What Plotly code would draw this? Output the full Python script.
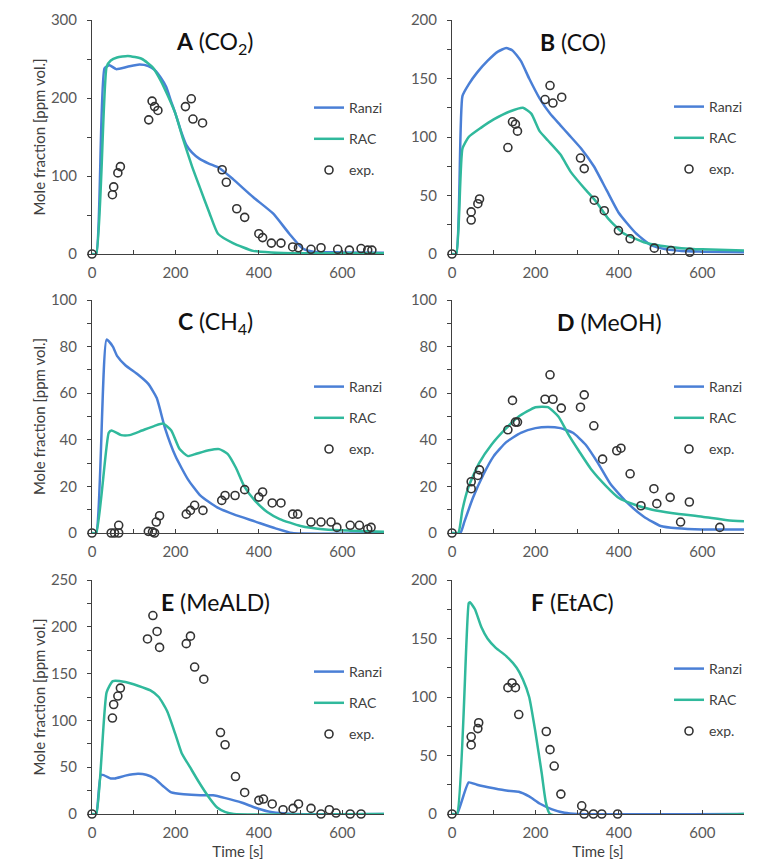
import plotly.graph_objects as go

# ---------------- data ----------------
# Panel A (CO2)
A_ranzi_t = [0, 10, 30, 42, 58, 85, 114, 135, 150, 165, 178, 190, 200, 215, 226, 240, 258, 280, 306, 338, 386, 434, 473, 505, 530, 600, 700]
A_ranzi_y = [0, 0, 238, 242, 237, 240, 243, 241, 236, 226, 214, 195, 180, 155, 140, 130, 122, 116, 110, 96, 73, 52, 26, 7, 3, 2, 1.5]
A_rac_t = [0, 10, 35, 45, 60, 86, 120, 146, 165, 180, 200, 218, 240, 258, 282, 302, 338, 386, 430, 500, 700]
A_rac_y = [0, 0, 240, 248, 252, 254, 250, 239, 222, 205, 180, 148, 112, 86, 52, 26, 14, 4, 2, 1, 1]
A_exp_t = [0, 49, 52, 62, 68, 136, 144, 150, 158, 224, 238, 242, 265, 312, 322, 347, 366, 400, 409, 430, 453, 481, 495, 525, 549, 589, 617, 645, 661, 671]
A_exp_y = [0, 76, 86, 104, 112, 172, 196, 189, 184, 189, 199, 173, 168, 108, 92, 58, 47, 26, 21, 14, 14, 9, 8, 6, 8, 6, 5, 7, 5, 5]

# Panel B (CO)
B_ranzi_t = [0, 10, 25, 40, 60, 85, 110, 130, 145, 165, 185, 210, 235, 260, 280, 310, 340, 370, 400, 440, 475, 500, 550, 600, 700]
B_ranzi_y = [0, 0, 135, 145, 155, 165, 173, 176, 174, 165, 150, 133, 120, 110, 102, 90, 75, 55, 35, 18, 8, 5, 2.5, 2, 1.5]
B_rac_t = [0, 10, 25, 40, 70, 100, 140, 170, 190, 210, 230, 260, 285, 320, 345, 375, 410, 460, 500, 550, 600, 700]
B_rac_y = [0, 0, 90, 100, 108, 115, 122, 125, 120, 105, 97, 85, 70, 55, 45, 30, 18, 10, 7, 5, 4, 3]
B_exp_t = [0, 46, 46, 62, 66, 134, 145, 152, 157, 223, 235, 242, 263, 308, 317, 341, 365, 399, 427, 485, 525, 570]
B_exp_y = [0, 29, 36, 43, 47, 91, 113, 111, 105, 132, 144, 129, 134, 82, 73, 46, 37, 20, 13, 5, 3, 1.5]

# Panel C (CH4)
C_ranzi_t = [0, 10, 35, 50, 60, 80, 110, 135, 155, 175, 200, 230, 260, 300, 340, 390, 440, 480, 700]
C_ranzi_y = [0, 0, 83, 80, 76, 72, 68, 64, 58, 45, 33, 23, 16, 11, 8, 5, 2, 0, 0]
C_rac_t = [0, 10, 40, 47, 70, 90, 120, 150, 170, 190, 210, 230, 250, 280, 305, 325, 345, 365, 390, 420, 450, 500, 560, 620, 700]
C_rac_y = [0, 0, 43, 44, 42, 42, 44, 46, 47, 44, 36, 33, 34, 35.5, 36, 34, 28, 20, 14, 9, 6, 3, 1.5, 1, 0.5]
C_exp_t = [0, 46, 54, 64, 64, 135, 145, 150, 154, 162, 226, 236, 246, 266, 311, 319, 343, 366, 400, 409, 432, 453, 481, 493, 525, 549, 573, 587, 619, 641, 661, 669]
C_exp_y = [0, 0, 0, 3.3, 0, 0.7, 0.5, 0, 4.7, 7.4, 8.1, 9.7, 11.9, 9.7, 14, 16.1, 16.1, 18.6, 15.4, 17.6, 12.9, 12.9, 8.1, 8.1, 4.7, 4.7, 4.7, 2.4, 3.3, 3.3, 1.7, 2.4]

# Panel D (MeOH)
D_ranzi_t = [0, 20, 30, 50, 75, 100, 130, 165, 200, 230, 260, 290, 320, 350, 380, 420, 460, 500, 540, 600, 700]
D_ranzi_y = [0, 0, 5, 15, 25, 33, 39, 43, 45, 45.5, 45, 43, 38, 30, 21, 13, 7, 3, 2, 1.5, 1.5]
D_rac_t = [0, 15, 25, 40, 65, 95, 130, 160, 200, 230, 255, 280, 305, 335, 370, 400, 440, 480, 530, 600, 660, 700]
D_rac_y = [0, 0, 10, 20, 30, 38, 45, 50, 54, 54, 50, 42, 35, 27, 20, 15, 12, 10, 8.5, 7, 5.5, 5]
D_exp_t = [0, 46, 46, 62, 66, 134, 145, 152, 157, 223, 235, 242, 262, 308, 317, 340, 361, 395, 405, 427, 453, 484, 491, 523, 548, 569, 642]
D_exp_y = [0, 22, 19, 24.7, 27.1, 44.3, 56.9, 47.6, 47.6, 57.4, 67.9, 57.4, 53.6, 54, 59.3, 46, 31.7, 35.3, 36.4, 25.4, 11.7, 19, 12.6, 15.3, 4.7, 13.3, 2.4]

# Panel E (MeALD)
E_ranzi_t = [0, 10, 22, 45, 55, 80, 110, 130, 150, 170, 190, 220, 260, 290, 320, 360, 390, 420, 450, 480, 700]
E_ranzi_y = [0, 0, 42, 38, 38, 41, 43, 42, 38, 30, 23, 21, 20, 20, 17, 12, 7, 3, 1, 0, 0]
E_rac_t = [0, 10, 35, 50, 80, 110, 140, 160, 180, 200, 215, 235, 255, 280, 300, 320, 340, 700]
E_rac_y = [0, 0, 130, 142, 141, 137, 132, 125, 110, 85, 65, 50, 35, 18, 7, 2, 0, 0]
E_exp_t = [0, 49, 52, 62, 68, 133, 146, 156, 162, 226, 236, 246, 268, 308, 319, 344, 366, 400, 411, 432, 458, 482, 495, 525, 549, 569, 585, 619, 645]
E_exp_y = [0, 102.5, 117, 126, 134.5, 187, 212, 195, 178, 182, 190, 157, 144, 87, 74, 40, 23, 14.6, 16, 10.7, 4.6, 6, 10.7, 6, 0, 4.6, 1, 0, 0]

# Panel F (EtAC)
F_ranzi_t = [0, 12, 40, 60, 100, 130, 160, 185, 210, 240, 270, 300, 700]
F_ranzi_y = [0, 0, 27, 25, 22, 20, 19, 15, 9, 4, 1, 0, 0]
F_rac_t = [0, 12, 40, 43, 55, 70, 85, 105, 130, 155, 170, 185, 200, 215, 225, 235, 700]
F_rac_y = [0, 0, 180, 181, 175, 160, 150, 142, 135, 125, 115, 100, 70, 35, 10, 0, 0]
F_exp_t = [0, 46, 46, 62, 64, 134, 144, 152, 160, 226, 235, 245, 261, 311, 317, 339, 359, 397]
F_exp_y = [0, 59, 66, 73, 78, 108, 112, 108, 85, 70.5, 55, 41, 17, 7, 0, 0, 0, 0]

panel_titles = ["<b>A</b> (CO<sub>2</sub>)", "<b>B</b> (CO)", "<b>C</b> (CH<sub>4</sub>)",
                "<b>D</b> (MeOH)", "<b>E</b> (MeALD)", "<b>F</b> (EtAC)"]
y_max = [300, 200, 100, 100, 250, 200]
y_dtick = [100, 50, 20, 20, 50, 50]
x_ticks = [0, 200, 400, 600]
series_names = ["Ranzi", "RAC", "exp."]

panels = [
    (A_ranzi_t, A_ranzi_y, A_rac_t, A_rac_y, A_exp_t, A_exp_y),
    (B_ranzi_t, B_ranzi_y, B_rac_t, B_rac_y, B_exp_t, B_exp_y),
    (C_ranzi_t, C_ranzi_y, C_rac_t, C_rac_y, C_exp_t, C_exp_y),
    (D_ranzi_t, D_ranzi_y, D_rac_t, D_rac_y, D_exp_t, D_exp_y),
    (E_ranzi_t, E_ranzi_y, E_rac_t, E_rac_y, E_exp_t, E_exp_y),
    (F_ranzi_t, F_ranzi_y, F_rac_t, F_rac_y, F_exp_t, F_exp_y),
]

# ---------------- layout geometry ----------------
# The page body has an 8px default margin, so the figure is sized to fit inside it
# and all screen-pixel positions below are converted to figure pixels.
PAGE_W, PAGE_H = 762, 868
OFF = 8
W, H = PAGE_W - 2 * OFF, PAGE_H - 2 * OFF
col_px = [(92, 384), (452, 744)]          # screen px
row_px = [(20, 254), (300, 533), (580, 814)]
title_cx = [214, 573, 215, 609, 215, 572]
legend_px = [(309, 109), (669, 108), (309, 388), (669, 388), (309, 673), (669, 670)]  # first item centre


def fx(px):
    return (px - OFF) / W


def fy(py):
    return 1 - (py - OFF) / H


BLUE = "#4a7fd6"
TEAL = "#30b99c"
FONT = "Lato"

fig = go.Figure()
layout = dict(
    width=W, height=H,
    margin=dict(l=0, r=0, t=0, b=0, autoexpand=False),
    paper_bgcolor="white", plot_bgcolor="white",
    font=dict(family=FONT, size=14, color="#404040"),
    showlegend=True,
    annotations=[],
)

for i, (rt, ry, ct, cy, et, ey) in enumerate(panels):
    r, c = divmod(i, 2)
    n = i + 1
    xa = "x" if n == 1 else f"x{n}"
    ya = "y" if n == 1 else f"y{n}"
    lg = "legend" if n == 1 else f"legend{n}"
    fig.add_trace(go.Scatter(x=rt, y=ry, mode="lines", name=series_names[0],
                             line=dict(color=BLUE, width=2.5, shape="spline", smoothing=0.5),
                             xaxis=xa, yaxis=ya, legend=lg, legendgroup=f"r{n}", cliponaxis=False))
    fig.add_trace(go.Scatter(x=ct, y=cy, mode="lines", name=series_names[1],
                             line=dict(color=TEAL, width=2.5, shape="spline", smoothing=0.5),
                             xaxis=xa, yaxis=ya, legend=lg, legendgroup=f"c{n}", cliponaxis=False))
    fig.add_trace(go.Scatter(x=et, y=ey, mode="markers", name=series_names[2],
                             marker=dict(symbol="circle-open", size=8, color="#333333",
                                         line=dict(width=1.6, color="#333333")),
                             xaxis=xa, yaxis=ya, legend=lg, legendgroup=f"e{n}", cliponaxis=False))

    x0, x1 = col_px[c]
    yt, yb = row_px[r]
    xdom = [fx(x0), fx(x1)]
    ydom = [fy(yb), fy(yt)]
    axis_common = dict(showline=True, linecolor="#404040", linewidth=1, showgrid=False,
                       zeroline=False, automargin=False,
                       tickfont=dict(family=FONT, size=15, color="#595959"),
                       tickcolor="#404040", ticklen=4, tickwidth=1)
    layout["xaxis" if n == 1 else f"xaxis{n}"] = dict(
        domain=xdom, range=[0, 700], anchor=ya, tickmode="array", tickvals=x_ticks,
        ticks="inside", ticklabelstandoff=5,
        minor=dict(dtick=100, ticks="inside", ticklen=4, tickcolor="#404040"),
        title=dict(text="Time [s]", font=dict(family=FONT, size=15, color="#404040"), standoff=15) if r == 2 else None,
        **axis_common)
    layout["yaxis" if n == 1 else f"yaxis{n}"] = dict(
        domain=ydom, range=[0, y_max[i]], anchor=xa, dtick=y_dtick[i], tick0=0,
        ticks="outside", ticklabelstandoff=7,
        minor=dict(dtick=y_dtick[i] / 2, ticks="outside", ticklen=4, tickcolor="#404040"),
        title=dict(text="Mole fraction [ppm vol.]", font=dict(family=FONT, size=15, color="#404040"), standoff=1) if c == 0 else None,
        **axis_common)
    lx, ly = legend_px[i]
    layout[lg] = dict(x=fx(lx), y=fy(ly - 17), xanchor="left", yanchor="top",
                      bgcolor="rgba(0,0,0,0)", font=dict(family=FONT, size=14, color="#404040"),
                      tracegroupgap=10, itemwidth=30)
    layout["annotations"].append(dict(
        text=panel_titles[i], xref="paper", yref="paper",
        x=fx(title_cx[i]), y=fy(yt + 22), xanchor="center", yanchor="middle",
        showarrow=False, font=dict(family=FONT, size=23, color="#111111")))

fig.update_layout(**layout)
fig.write_html("out.html")
